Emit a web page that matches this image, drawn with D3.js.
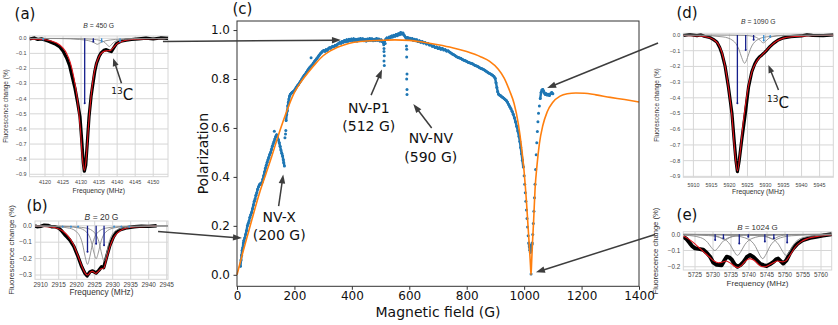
<!DOCTYPE html>
<html>
<head>
<meta charset="utf-8">
<style>
body { margin: 0; background: #fff; }
svg { display: block; }
</style>
</head>
<body>
<script src="https://d3js.org/d3.v7.min.js"></script>
<script>

// ---------- panel (c): polarization vs magnetic field ----------
var fieldTicks = [0, 200, 400, 600, 800, 1000, 1200, 1400];
var polTicks = [0, 0.2, 0.4, 0.6, 0.8, 1.0];

// measured polarization [field G, polarization]
var measured = [
  [12,0.035],[14,0.06],[16,0.08],[18,0.1],[20,0.11],[22,0.13],[24,0.14],[27,0.15],[30,0.165],[33,0.18],
  [36,0.2],[39,0.21],[42,0.22],[45,0.235],[48,0.245],[51,0.255],[54,0.27],[57,0.285],[60,0.3],[63,0.31],
  [66,0.325],[69,0.335],[72,0.35],[75,0.36],[78,0.368],[81,0.372],[84,0.37],[87,0.378],[90,0.39],[93,0.405],
  [96,0.42],[99,0.435],[102,0.448],[105,0.46],[108,0.47],[111,0.48],[114,0.492],[117,0.5],[120,0.512],[123,0.525],
  [126,0.535],[129,0.545],[132,0.555],[135,0.565],[138,0.572],[141,0.565],[144,0.552],[147,0.54],[150,0.525],[153,0.51],
  [156,0.497],[159,0.485],[161,0.47],[163,0.458],[165,0.445],
  [171,0.63],[173,0.655],[175,0.67],[177,0.69],[179,0.705],[181,0.718],[183,0.73],[186,0.738],[189,0.742],[192,0.745],
  [195,0.748],[198,0.75],[202,0.757],[206,0.765],[210,0.772],[214,0.778],[218,0.785],[222,0.792],[226,0.8],[230,0.808],
  [234,0.815],[238,0.82],[242,0.828],[246,0.835],[250,0.842],[254,0.848],[258,0.853],[262,0.858],[266,0.865],[270,0.872],
  [274,0.878],[278,0.884],[282,0.89],[286,0.897],[290,0.903],[294,0.908],[298,0.913],[302,0.916],[306,0.913],[310,0.92],
  [314,0.917],[318,0.924],[322,0.928],[326,0.926],[330,0.931],[334,0.934],[338,0.932],[342,0.938],[346,0.936],[350,0.942],
  [354,0.945],[358,0.949],[362,0.946],[366,0.953],[370,0.95],[374,0.957],[378,0.952],[382,0.96],[386,0.954],[390,0.962],
  [394,0.956],[398,0.963],[402,0.957],[406,0.964],[410,0.956],[414,0.962],[418,0.955],[422,0.963],[426,0.957],[430,0.965],
  [434,0.958],[438,0.964],[442,0.956],[446,0.962],[450,0.955],[454,0.963],[458,0.957],[462,0.965],[466,0.958],[470,0.964],
  [474,0.956],[478,0.962],[482,0.957],[486,0.965],[490,0.958],[494,0.963],[498,0.955],[502,0.96],[506,0.953],[510,0.948],
  [514,0.955],[518,0.962],[522,0.968],[526,0.965],[530,0.972],[534,0.969],[538,0.976],[542,0.972],[546,0.979],[550,0.975],
  [554,0.982],[558,0.977],[562,0.985],[566,0.981],[570,0.99],[574,0.984],[578,0.988],[582,0.979],[586,0.972],[590,0.966],
  [594,0.97],[598,0.963],[602,0.967],[606,0.961],[610,0.965],[614,0.958],[618,0.962],[622,0.956],[626,0.96],[630,0.953],
  [635,0.956],[640,0.95],[645,0.953],[650,0.947],[655,0.949],[660,0.943],[665,0.945],[670,0.939],[675,0.94],[680,0.934],
  [685,0.935],[690,0.929],[695,0.931],[700,0.925],[705,0.928],[710,0.922],[715,0.925],[720,0.919],[725,0.92],[730,0.914],
  [735,0.915],[740,0.91],[745,0.906],[750,0.902],[755,0.899],[760,0.895],[765,0.891],[770,0.888],[775,0.886],[780,0.884],
  [785,0.88],[790,0.877],[795,0.875],[800,0.872],[805,0.868],[810,0.866],[815,0.864],[820,0.862],[825,0.858],[830,0.855],
  [835,0.853],[840,0.85],[845,0.846],[850,0.843],[855,0.841],[860,0.838],[865,0.834],[870,0.83],[875,0.826],[880,0.822],
  [885,0.819],[890,0.815],[895,0.81],[899,0.803],[902,0.785],[905,0.765],[908,0.748],[911,0.738],[914,0.735],[918,0.732],
  [922,0.727],[926,0.724],[930,0.72],[934,0.716],[938,0.712],[942,0.705],[946,0.696],[950,0.687],[954,0.678],[958,0.668],
  [962,0.656],[966,0.642],[970,0.625],[974,0.607],[978,0.588],[982,0.565],[985,0.545],[988,0.52],[991,0.495],[994,0.468],
  [997,0.44],[1000,0.405],[1002,0.37],[1004,0.335],[1006,0.3],[1008,0.265],[1010,0.23],[1012,0.195],[1014,0.16],[1016,0.13],
  [1018,0.115],[1020,0.1],[1022,0.092],[1024,0.1],[1026,0.11],[1028,0.13],[1030,0.165],[1032,0.21],[1034,0.26],[1036,0.315],
  [1038,0.37],[1040,0.43],[1042,0.49],[1044,0.54],[1046,0.585],[1048,0.625],[1050,0.66],[1053,0.69],[1056,0.72],[1059,0.745],
  [1062,0.755],[1065,0.757],[1068,0.75],[1071,0.742],[1074,0.737],[1077,0.74],[1080,0.735],[1084,0.738],[1088,0.733],[1092,0.74],
  [1096,0.745],[1100,0.74]
];
// isolated points: cross-relaxation dips and strays
var dipPoints = [
  [130,0.587],[167,0.56],[169,0.575],[170,0.59],[258,0.887],
  [511,0.94],[512,0.925],[512,0.912],[513,0.895],[512,0.874],[513,0.855],[516,0.945],
  [590,0.935],[591,0.922],[591,0.89],[592,0.82],[591,0.8],[592,0.757],[592,0.737],
  [1021,0.12],[1023,0.11],[1024,0.003],[1027,0.125]
];
// model curve [field G, polarization]
var model = [
  [0,0],[20,0.09],[40,0.175],[60,0.26],[80,0.34],[100,0.41],[120,0.48],[140,0.555],[160,0.625],[180,0.69],
  [200,0.745],[225,0.792],[250,0.83],[275,0.865],[300,0.895],[325,0.915],[350,0.93],[375,0.94],[400,0.948],[450,0.955],
  [500,0.958],[550,0.96],[600,0.958],[650,0.95],[700,0.94],[750,0.928],[800,0.912],[850,0.89],[880,0.872],[910,0.84],
  [930,0.805],[950,0.75],[965,0.70],[980,0.615],[990,0.53],[1000,0.42],[1008,0.30],[1014,0.19],[1019,0.10],[1022,0.04],
  [1024,0.0],[1026,0.05],[1029,0.13],[1033,0.22],[1038,0.35],[1045,0.45],[1053,0.535],[1065,0.61],[1080,0.665],[1100,0.705],
  [1125,0.73],[1150,0.74],[1180,0.743],[1210,0.742],[1250,0.735],[1300,0.725],[1350,0.716],[1400,0.706]
];

// ---------- inset (a): B = 450 G ----------
var aFreqTicks = [4120, 4125, 4130, 4135, 4140, 4145, 4150];
var aValTicks = [0, -0.1, -0.2, -0.3, -0.4, -0.5, -0.6, -0.7, -0.8, -0.9];
var aData = [
  [4115.7,-0.005],[4117,0.002],[4118,-0.008],[4119,-0.004],[4120,-0.012],[4121,-0.02],[4122,-0.03],[4123,-0.04],
  [4124,-0.055],[4125,-0.085],[4126,-0.13],[4126.8,-0.18],[4127.5,-0.25],[4128.3,-0.33],[4129,-0.42],[4129.7,-0.52],
  [4130.2,-0.68],[4130.6,-0.82],[4130.9,-0.88],[4131.3,-0.84],[4131.7,-0.7],[4132.2,-0.52],[4132.8,-0.38],[4133.3,-0.3],
  [4133.8,-0.22],[4134.3,-0.165],[4135,-0.12],[4135.6,-0.095],[4136.3,-0.08],[4137,-0.075],[4137.7,-0.082],[4138.4,-0.088],
  [4139,-0.065],[4139.8,-0.035],[4141,-0.02],[4142.5,-0.012],[4144,-0.008],[4146,-0.004],[4148,0.001],[4150,-0.005],
  [4152,0.002],[4154.1,-0.001]
];
var aFit = [
  [4115.7,-0.004],[4118,-0.006],[4120,-0.01],[4122,-0.02],[4123.5,-0.035],[4125,-0.065],[4126,-0.1],[4127,-0.16],
  [4128,-0.26],[4129,-0.41],[4129.8,-0.6],[4130.4,-0.8],[4130.9,-0.875],[4131.4,-0.8],[4132,-0.6],[4132.7,-0.4],
  [4133.4,-0.26],[4134.2,-0.17],[4135,-0.12],[4135.8,-0.095],[4136.6,-0.085],[4137.4,-0.083],[4138.2,-0.08],[4139,-0.06],
  [4140,-0.035],[4141.5,-0.02],[4143,-0.012],[4146,-0.006],[4150,-0.003],[4154.1,-0.002]
];
var aComponents = [
  [[4115.7,-0.001],[4124.5,-0.002],[4129.5,-0.008],[4132.1,-0.016],[4133.3,-0.026],[4133.9,-0.033],[4134.5,-0.04],
   [4135.1,-0.033],[4135.7,-0.026],[4136.9,-0.016],[4139.5,-0.008],[4144.5,-0.002],[4154.1,-0.001]],
  [[4115.7,-0.001],[4127.8,-0.002],[4132.8,-0.006],[4135.6,-0.016],[4136.7,-0.03],[4137.25,-0.044],[4137.8,-0.055],
   [4138.35,-0.044],[4138.9,-0.03],[4140,-0.016],[4142.8,-0.006],[4147.8,-0.002],[4154.1,-0.001]]
];
var aSticksDark = [[4131,-0.43],[4133.4,-0.022]];
var aSticksLight = [[4119.5,-0.008],[4135.7,-0.022],[4140.8,-0.02]];

// ---------- inset (b): B = 20 G ----------
var bFreqTicks = [2910, 2915, 2920, 2925, 2930, 2935, 2940, 2945];
var bValTicks = [0, -0.1, -0.2, -0.3];
var bData = [
  [2908.4,0],[2909,-0.006],[2910,-0.004],[2911,0.004],[2912,0.002],[2913,-0.006],[2914,-0.006],[2915,-0.014],
  [2915.8,-0.03],[2916.7,-0.055],[2917.4,-0.07],[2918.1,-0.087],[2919.2,-0.125],[2920.4,-0.19],[2921.4,-0.25],
  [2922.3,-0.29],[2922.9,-0.305],[2923.7,-0.28],[2924.4,-0.275],[2925.4,-0.288],[2926.2,-0.27],[2926.9,-0.25],
  [2927.5,-0.255],[2928.3,-0.19],[2929.2,-0.12],[2930.2,-0.068],[2931,-0.04],[2932,-0.025],[2934,-0.012],
  [2936,-0.006],[2938,-0.002],[2940,-0.004],[2942.2,0]
];
var bFit = [
  [2908.4,-0.002],[2912,-0.006],[2914,-0.012],[2916,-0.03],[2917.5,-0.06],[2919,-0.11],[2920.3,-0.18],[2921.5,-0.25],
  [2922.4,-0.29],[2923,-0.3],[2923.8,-0.283],[2924.4,-0.278],[2925.3,-0.29],[2926.1,-0.276],[2926.8,-0.262],
  [2927.5,-0.258],[2928.3,-0.2],[2929.2,-0.13],[2930.2,-0.075],[2931.5,-0.04],[2933,-0.02],[2935,-0.01],
  [2938,-0.005],[2942.2,-0.002]
];
var bComponents = [
  [[2908.4,-0.002],[2913,-0.004],[2918,-0.015],[2920.4,-0.047],[2921.7,-0.118],[2922.35,-0.188],[2923,-0.235],
   [2923.65,-0.188],[2924.3,-0.118],[2925.6,-0.047],[2928,-0.015],[2933,-0.004],[2945.4,-0.001]],
  [[2908.4,-0.001],[2915.4,-0.003],[2920.4,-0.013],[2922.8,-0.04],[2924.1,-0.1],[2924.75,-0.16],[2925.4,-0.2],
   [2926.05,-0.16],[2926.7,-0.1],[2928,-0.04],[2930.4,-0.013],[2935.4,-0.003],[2945.4,-0.001]],
  [[2908.4,-0.001],[2917.6,-0.004],[2922.6,-0.014],[2925,-0.043],[2926.3,-0.108],[2926.95,-0.172],[2927.6,-0.215],
   [2928.25,-0.172],[2928.9,-0.108],[2930.2,-0.043],[2932.6,-0.014],[2937.6,-0.004],[2945.4,-0.001]]
];
var bSticksDark = [[2923,-0.158],[2925.4,-0.11],[2927.6,-0.118]];
var bSticksLight = [[2916.1,-0.006],[2918.4,-0.006],[2920.4,-0.006],[2930.4,-0.006],[2932.4,-0.006],[2934.6,-0.006]];

// ---------- inset (d): B = 1090 G ----------
var dFreqTicks = [5910, 5915, 5920, 5925, 5930, 5935, 5940, 5945];
var dValTicks = [0, -0.1, -0.2, -0.3, -0.4, -0.5, -0.6, -0.7, -0.8, -0.9];
var dData = [
  [5907.2,-0.003],[5909,0.003],[5911,-0.004],[5912,0.001],[5913,-0.008],[5914.5,-0.015],[5915.5,-0.028],[5916.5,-0.045],
  [5917.3,-0.08],[5917.9,-0.117],[5918.8,-0.2],[5919.7,-0.33],[5920.7,-0.5],[5921.3,-0.67],[5921.8,-0.8],[5922.2,-0.87],
  [5922.7,-0.8],[5923.4,-0.67],[5924.4,-0.5],[5925.3,-0.33],[5926.2,-0.234],[5927,-0.185],[5927.6,-0.16],[5928.3,-0.14],
  [5929,-0.127],[5929.7,-0.112],[5930.4,-0.096],[5931.3,-0.072],[5932.2,-0.053],[5933.5,-0.032],[5935,-0.018],
  [5937,-0.01],[5940,-0.006],[5941.5,0.002],[5943,-0.002],[5946,-0.004],[5948.8,0.001]
];
var dFit = [
  [5907.2,-0.003],[5911,-0.006],[5913.5,-0.012],[5915.5,-0.028],[5916.8,-0.055],[5917.9,-0.11],[5918.8,-0.2],
  [5919.7,-0.33],[5920.7,-0.52],[5921.4,-0.72],[5922.2,-0.865],[5923,-0.74],[5923.8,-0.56],[5924.6,-0.42],
  [5925.4,-0.31],[5926.3,-0.228],[5927.3,-0.178],[5928.3,-0.145],[5929.3,-0.12],[5930.4,-0.094],[5931.6,-0.066],
  [5933,-0.04],[5935,-0.02],[5938,-0.01],[5942,-0.005],[5948.8,-0.002]
];
var dComponents = [
  [[5907.2,-0.002],[5912.2,-0.003],[5918.2,-0.012],[5921,-0.036],[5922.6,-0.09],[5923.4,-0.144],[5924.2,-0.18],
   [5925,-0.144],[5925.8,-0.09],[5927.4,-0.036],[5930.2,-0.012],[5936.2,-0.003],[5948.8,-0.001]],
  [[5907.2,0],[5919.4,-0.001],[5924.4,-0.003],[5926.8,-0.01],[5928.1,-0.025],[5928.75,-0.04],[5929.4,-0.05],
   [5930.05,-0.04],[5930.7,-0.025],[5932,-0.01],[5934.4,-0.003],[5939.4,-0.001],[5948.8,0]]
];
var dSticksDark = [[5922.2,-0.435],[5924.5,-0.096],[5926.7,-0.03]];
var dSticksLight = [[5929.5,-0.035],[5931.3,-0.012]];

// ---------- inset (e): B = 1024 G ----------
var eFreqTicks = [5725, 5730, 5735, 5740, 5745, 5750, 5755, 5760];
var eValTicks = [0, -0.1, -0.2];
var eData = [
  [5721.75,-0.015],[5722.7,-0.03],[5723.6,-0.056],[5724.3,-0.075],[5725,-0.086],[5726,-0.09],[5727.3,-0.095],
  [5728.3,-0.115],[5729.2,-0.138],[5730.1,-0.175],[5731,-0.188],[5732.4,-0.19],[5733.2,-0.16],[5733.8,-0.138],
  [5734.5,-0.142],[5735.2,-0.155],[5736,-0.185],[5736.8,-0.2],[5737.6,-0.19],[5738.5,-0.17],[5739.4,-0.14],
  [5740.3,-0.128],[5741.2,-0.14],[5742.1,-0.16],[5743,-0.18],[5744,-0.19],[5744.9,-0.195],[5745.8,-0.185],
  [5746.8,-0.17],[5747.5,-0.155],[5748.1,-0.15],[5748.8,-0.165],[5749.5,-0.18],[5750.4,-0.16],[5751.3,-0.12],
  [5752.3,-0.086],[5753.5,-0.058],[5755,-0.035],[5757,-0.022],[5758.7,-0.015],[5760.5,-0.008],[5762.97,0]
];
var eFit = [
  [5721.75,-0.01],[5723,-0.025],[5724.5,-0.05],[5726,-0.08],[5727.5,-0.11],[5729,-0.14],[5730.3,-0.165],
  [5731.5,-0.175],[5732.5,-0.172],[5733.6,-0.165],[5735,-0.18],[5736.2,-0.2],[5737,-0.205],[5738,-0.19],
  [5739,-0.165],[5740.2,-0.15],[5741.4,-0.16],[5742.6,-0.185],[5743.6,-0.2],[5744.5,-0.2],[5745.5,-0.19],
  [5746.8,-0.175],[5748,-0.165],[5749.3,-0.17],[5750.3,-0.162],[5751.5,-0.125],[5752.8,-0.08],[5754.5,-0.045],
  [5756.5,-0.025],[5759,-0.013],[5762.97,-0.004]
];
var eComponents = [
  [[5721.75,-0.005],[5722.5,-0.006],[5726.5,-0.02],[5728.5,-0.05],[5729.5,-0.08],[5730.5,-0.1],[5731.5,-0.08],
   [5732.5,-0.05],[5734.5,-0.02],[5738.5,-0.006],[5746.5,-0.002],[5762.97,0]],
  [[5721.75,-0.003],[5728.8,-0.008],[5732.8,-0.026],[5734.8,-0.065],[5735.8,-0.104],[5736.8,-0.13],[5737.8,-0.104],
   [5738.8,-0.065],[5740.8,-0.026],[5744.8,-0.008],[5752.8,-0.002],[5762.97,-0.001]],
  [[5721.75,-0.001],[5727.8,-0.002],[5735.8,-0.009],[5739.8,-0.03],[5741.8,-0.075],[5742.8,-0.12],[5743.8,-0.15],
   [5744.8,-0.12],[5745.8,-0.075],[5747.8,-0.03],[5751.8,-0.009],[5759.8,-0.002],[5762.97,-0.0015]],
  [[5721.75,-0.001],[5734.3,-0.002],[5742.3,-0.008],[5746.3,-0.026],[5748.3,-0.065],[5749.3,-0.104],[5750.3,-0.13],
   [5751.3,-0.104],[5752.3,-0.065],[5754.3,-0.026],[5758.3,-0.008],[5762.97,-0.003]],
  [[5721.75,0],[5727.3,-0.002],[5730.3,-0.007],[5731.8,-0.018],[5732.55,-0.028],[5733.3,-0.035],[5734.05,-0.028],
   [5734.8,-0.018],[5736.3,-0.007],[5739.3,-0.002],[5762.97,0]],
  [[5721.75,0],[5740.6,-0.002],[5743.6,-0.006],[5745.1,-0.015],[5745.85,-0.024],[5746.6,-0.03],[5747.35,-0.024],
   [5748.1,-0.015],[5749.6,-0.006],[5752.6,-0.002],[5762.97,0]]
];
var eSticksDark = [[5730.6,-0.035],[5732.9,-0.025],[5737.3,-0.056],[5739.8,-0.015],[5744.4,-0.045],[5746.9,-0.025],[5750.6,-0.05]];
var eSticksLight = [];

// ---------- layout ----------
var W = 838, H = 325;
var gridColor = "#d6d6d6";
var blue = "#1f77b4", orange = "#ff7f0e", arrowColor = "#3d3d3d";
var mainBox = {left: 237, right: 639, top: 21, bottom: 286.3};

var svg = d3.select("body").append("svg")
    .attr("width", W)
    .attr("height", H)
    .style("font-family", "'DejaVu Sans', sans-serif");
svg.append("rect").attr("width", W).attr("height", H).attr("fill", "#fff");
var defs = svg.append("defs");

var fmt1 = d3.format(".1f");

// ---------- main panel ----------
var x = d3.scaleLinear().domain([0, 1400]).range([mainBox.left, mainBox.right]);
var y = d3.scaleLinear().domain([-0.047, 1.037]).range([mainBox.bottom, mainBox.top]);

var gMain = svg.append("g");

// measured points: neighbouring points that sit close together are joined so the dense trace reads as a band
var pts = measured.map(d => [x(d[0]), y(d[1])]);
for (var i = 1; i < pts.length; i++) {
    var dx = pts[i][0] - pts[i-1][0], dy = pts[i][1] - pts[i-1][1];
    if (Math.sqrt(dx*dx + dy*dy) < 7) {
        gMain.append("line")
            .attr("x1", pts[i-1][0]).attr("y1", pts[i-1][1])
            .attr("x2", pts[i][0]).attr("y2", pts[i][1])
            .attr("stroke", blue).attr("stroke-width", 2.4).attr("stroke-linecap", "round");
    }
}
gMain.selectAll(null).data(measured.concat(dipPoints)).join("circle")
    .attr("cx", d => x(d[0]))
    .attr("cy", d => y(d[1]))
    .attr("r", 1.5)
    .attr("fill", blue);

// orange model line, drawn over the points
gMain.append("path")
    .attr("d", d3.line().x(d => x(d[0])).y(d => y(d[1])).curve(d3.curveMonotoneX)(model))
    .attr("fill", "none")
    .attr("stroke", orange)
    .attr("stroke-width", 1.6);

// axes
var xAxis = gMain.append("g")
    .attr("transform", "translate(0," + mainBox.bottom + ")")
    .call(d3.axisBottom(x).tickValues(fieldTicks).tickFormat(d3.format("d")).tickSize(3.5).tickPadding(2).tickSizeOuter(0));
var yAxis = gMain.append("g")
    .attr("transform", "translate(" + mainBox.left + ",0)")
    .call(d3.axisLeft(y).tickValues(polTicks).tickFormat(fmt1).tickSize(3.5).tickPadding(3.5).tickSizeOuter(0));
[xAxis, yAxis].forEach(function(a) {
    a.select(".domain").remove();
    a.selectAll("line").attr("stroke", "#333");
    a.selectAll("text").attr("font-size", 12).attr("fill", "#111")
        .attr("font-family", "'DejaVu Sans', sans-serif");
});
gMain.append("rect")
    .attr("x", mainBox.left).attr("y", mainBox.top)
    .attr("width", mainBox.right - mainBox.left).attr("height", mainBox.bottom - mainBox.top)
    .attr("fill", "none").attr("stroke", "#333").attr("stroke-width", 1);

gMain.append("text")
    .attr("x", (mainBox.left + mainBox.right) / 2).attr("y", 316.5)
    .attr("text-anchor", "middle").attr("font-size", 14).attr("fill", "#111")
    .text("Magnetic field (G)");
gMain.append("text")
    .attr("transform", "translate(208," + ((mainBox.top + mainBox.bottom) / 2) + ") rotate(-90)")
    .attr("text-anchor", "middle").attr("font-size", 14).attr("fill", "#111")
    .text("Polarization");

// ---------- arrows ----------
function arrow(p0, p1, headLen, headW) {
    headLen = headLen || 9; headW = headW || 6.5;
    var dx = p1[0] - p0[0], dy = p1[1] - p0[1];
    var len = Math.sqrt(dx*dx + dy*dy), ux = dx / len, uy = dy / len;
    var bx = p1[0] - ux * headLen, by = p1[1] - uy * headLen;
    svg.append("line")
        .attr("x1", p0[0]).attr("y1", p0[1])
        .attr("x2", p1[0] - ux * headLen * 0.6).attr("y2", p1[1] - uy * headLen * 0.6)
        .attr("stroke", arrowColor).attr("stroke-width", 1.5);
    svg.append("path")
        .attr("d", "M" + p1[0] + "," + p1[1] +
                   "L" + (bx - uy * headW / 2) + "," + (by + ux * headW / 2) +
                   "L" + (bx + uy * headW / 2) + "," + (by - ux * headW / 2) + "Z")
        .attr("fill", arrowColor);
}

// annotation texts in main panel
var mainNotes = [
    {lines: ["NV-X", "(200 G)"], at: [147, 0.217], tail: [145, 0.281], tip: [161, 0.41]},
    {lines: ["NV-P1", "(512 G)"], at: [459, 0.662], tail: [467, 0.734], tip: [505, 0.839]},
    {lines: ["NV-NV", "(590 G)"], at: [675, 0.537], tail: [678, 0.60], tip: [614, 0.698]}
];
mainNotes.forEach(function(n) {
    var t = svg.append("text")
        .attr("x", x(n.at[0])).attr("y", y(n.at[1]))
        .attr("text-anchor", "middle").attr("font-size", 14).attr("fill", "#111");
    n.lines.forEach(function(s, k) {
        t.append("tspan").attr("x", x(n.at[0])).attr("dy", k ? 18.5 : 0).text(s);
    });
    arrow([x(n.tail[0]), y(n.tail[1])], [x(n.tip[0]), y(n.tip[1])]);
});

svg.append("text").attr("x", 242.5).attr("y", 14)
    .attr("text-anchor", "middle").attr("font-size", 15).attr("fill", "#111").text("(c)");

// ---------- insets ----------
var insetLayouts = {
    a: {box: [29.5, 168, 36, 176.7], xDom: [4115.7, 4154.1], yDom: [-0.916, 0.015],
        xTickY: 184, xLabelY: 192.7, yLabelX: 7.5, yLabelY: 106, titleY: 27.5,
        tickFont: 5.4, labelFont: 6.8, titleFont: 6.8, letter: [25, 19], dataWidth: 3.2},
    b: {box: [35, 168, 221, 279.3], xDom: [2908.42, 2945.36], yDom: [-0.326, 0.029],
        xTickY: 286.7, xLabelY: 295, yLabelX: 14, yLabelY: 250, titleY: 219.5,
        tickFont: 6.5, labelFont: 8.3, titleFont: 8.5, letter: [37, 211], dataWidth: 3.4},
    d: {box: [683.3, 833.3, 33.3, 177.3], xDom: [5907.2, 5948.8], yDom: [-0.906, 0.0108],
        xTickY: 186.5, xLabelY: 193.5, yLabelX: 659, yLabelY: 105, titleY: 24,
        tickFont: 5.4, labelFont: 6.8, titleFont: 6.8, letter: [687, 17.5], dataWidth: 3.2},
    e: {box: [683.3, 831.7, 231.7, 270], xDom: [5721.75, 5762.97], yDom: [-0.22, 0.016],
        xTickY: 276.7, xLabelY: 285.7, yLabelX: 658, yLabelY: 251, titleY: 229.5,
        tickFont: 6.3, labelFont: 8, titleFont: 8, letter: [687, 220], dataWidth: 4}
};

function drawInset(id, L, field, xTicks, yTicks, data, fit, comps, sticksDark, sticksLight) {
    var b = L.box;
    var xs = d3.scaleLinear().domain(L.xDom).range([b[0], b[1]]);
    var ys = d3.scaleLinear().domain(L.yDom).range([b[3], b[2]]);
    var g = svg.append("g").style("font-family", "'Liberation Sans', Arial, sans-serif");

    g.selectAll(null).data(xTicks).join("line")
        .attr("x1", d => xs(d)).attr("x2", d => xs(d))
        .attr("y1", b[2]).attr("y2", b[3])
        .attr("stroke", gridColor).attr("stroke-width", 1);
    g.selectAll(null).data(yTicks).join("line")
        .attr("x1", b[0]).attr("x2", b[1])
        .attr("y1", d => ys(d)).attr("y2", d => ys(d))
        .attr("stroke", gridColor).attr("stroke-width", 1);
    g.append("rect")
        .attr("x", b[0]).attr("y", b[2]).attr("width", b[1] - b[0]).attr("height", b[3] - b[2])
        .attr("fill", "none").attr("stroke", gridColor).attr("stroke-width", 1);

    defs.append("clipPath").attr("id", "clip-" + id).append("rect")
        .attr("x", b[0]).attr("y", b[2]).attr("width", b[1] - b[0]).attr("height", b[3] - b[2]);
    var p = g.append("g").attr("clip-path", "url(#clip-" + id + ")");

    var straight = d3.line().x(d => xs(d[0])).y(d => ys(d[1]));
    var smooth = d3.line().x(d => xs(d[0])).y(d => ys(d[1])).curve(d3.curveMonotoneX);

    p.append("path").attr("d", straight(data))
        .attr("fill", "none").attr("stroke", "#000").attr("stroke-width", L.dataWidth)
        .attr("stroke-linejoin", "round");
    p.append("path").attr("d", smooth(fit))
        .attr("fill", "none").attr("stroke", "#e3141b").attr("stroke-width", 1.1);
    comps.forEach(function(c) {
        p.append("path").attr("d", smooth(c))
            .attr("fill", "none").attr("stroke", "#8a8a8a").attr("stroke-width", 0.9);
    });
    [[sticksLight, "#3b8fd4"], [sticksDark, "#151f8c"]].forEach(function(s) {
        p.selectAll(null).data(s[0]).join("line")
            .attr("x1", d => xs(d[0])).attr("x2", d => xs(d[0]))
            .attr("y1", ys(0)).attr("y2", d => ys(d[1]))
            .attr("stroke", s[1]).attr("stroke-width", 1.3);
        p.selectAll(null).data(s[0]).join("circle")
            .attr("cx", d => xs(d[0])).attr("cy", d => ys(d[1]))
            .attr("r", 1).attr("fill", s[1]);
    });

    g.selectAll(null).data(xTicks).join("text")
        .attr("x", d => xs(d)).attr("y", L.xTickY)
        .attr("text-anchor", "middle").attr("font-size", L.tickFont).attr("fill", "#444")
        .text(d => d);
    g.selectAll(null).data(yTicks).join("text")
        .attr("x", b[0] - 3).attr("y", d => ys(d)).attr("dy", "0.35em")
        .attr("text-anchor", "end").attr("font-size", L.tickFont).attr("fill", "#444")
        .text(d => fmt1(d));
    g.append("text")
        .attr("x", (b[0] + b[1]) / 2).attr("y", L.xLabelY)
        .attr("text-anchor", "middle").attr("font-size", L.labelFont).attr("fill", "#333")
        .text("Frequency (MHz)");
    g.append("text")
        .attr("transform", "translate(" + L.yLabelX + "," + L.yLabelY + ") rotate(-90)")
        .attr("text-anchor", "middle").attr("font-size", L.labelFont * 0.95).attr("fill", "#333")
        .text("Fluorescence change (%)");
    var t = g.append("text")
        .attr("x", (b[0] + b[1]) / 2).attr("y", L.titleY)
        .attr("text-anchor", "middle").attr("font-size", L.titleFont).attr("fill", "#333");
    t.append("tspan").attr("font-style", "italic").text("B");
    t.append("tspan").text(" = " + field + " G");

    svg.append("text").attr("x", L.letter[0]).attr("y", L.letter[1])
        .attr("text-anchor", "middle").attr("font-size", 15).attr("fill", "#111")
        .style("font-family", "'DejaVu Sans', sans-serif").text("(" + id + ")");
    return {x: xs, y: ys};
}

var sa = drawInset("a", insetLayouts.a, 450, aFreqTicks, aValTicks, aData, aFit, aComponents, aSticksDark, aSticksLight);
var sb = drawInset("b", insetLayouts.b, 20, bFreqTicks, bValTicks, bData, bFit, bComponents, bSticksDark, bSticksLight);
var sd = drawInset("d", insetLayouts.d, 1090, dFreqTicks, dValTicks, dData, dFit, dComponents, dSticksDark, dSticksLight);
var se = drawInset("e", insetLayouts.e, 1024, eFreqTicks, eValTicks, eData, eFit, eComponents, eSticksDark, eSticksLight);

// 13C labels with arrows, in inset coordinates
function carbonNote(s, at, tail, tip) {
    var t = svg.append("text").attr("x", s.x(at[0])).attr("y", s.y(at[1])).attr("fill", "#111");
    t.append("tspan").attr("font-size", 9).attr("dy", -6).text("13");
    t.append("tspan").attr("font-size", 15).attr("dy", 6).text("C");
    arrow([s.x(tail[0]), s.y(tail[1])], [s.x(tip[0]), s.y(tip[1])], 8, 6);
}
carbonNote(sa, [4138.4, -0.408], [4141.2, -0.298], [4138.9, -0.132]);
carbonNote(sd, [5930.4, -0.467], [5933.6, -0.35], [5930.8, -0.191]);

// links from each inset to its field in panel (c)
arrow([sa.x(4152.7), sa.y(-0.022)], [x(362), y(0.959)]);
arrow([sb.x(2942.6), sb.y(-0.035)], [x(17.4), y(0.15)]);
arrow([sd.x(5900.2), sd.y(-0.051)], [x(1080), y(0.763)]);
arrow([se.x(5713.9), se.y(-0.001)], [x(1041), y(0.01)]);

</script>
</body>
</html>
